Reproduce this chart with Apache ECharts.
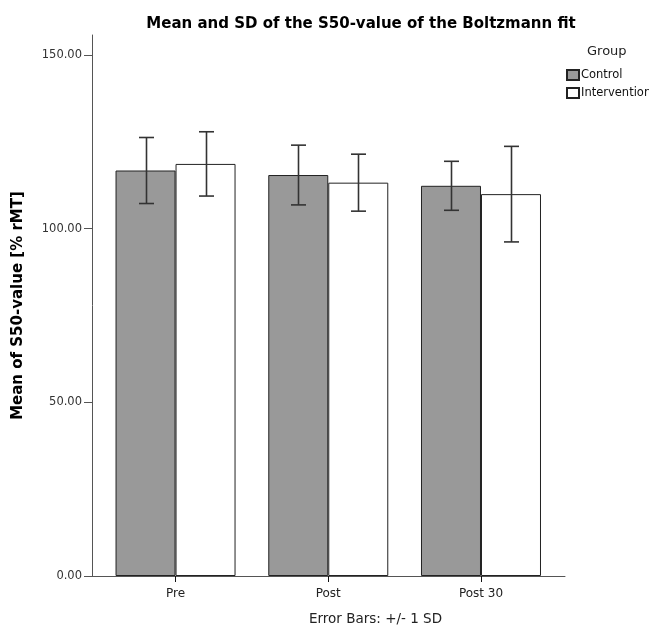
<!DOCTYPE html>
<html>
<head>
<meta charset="utf-8">
<script src="https://cdn.jsdelivr.net/npm/echarts@6/dist/echarts.min.js"></script>
<style>
  html, body { margin: 0; padding: 0; background: #fff; }
  #chart { width: 649px; height: 631px; }
</style>
</head>
<body>
<div id="chart"></div>
<script>
// values
const categories = ['Pre', 'Post', 'Post 30'];
const controlMean = [116.7, 115.4, 112.3];
const controlSD = [9.5, 8.6, 7.05];
const interventionMean = [118.6, 113.2, 109.9];
const interventionSD = [9.25, 8.2, 13.75];
const yTicks = [0, 50, 100, 150];

const font = '"DejaVu Sans", "Liberation Sans", Arial, sans-serif';
const barW = 60;

const errData = (means, sds, side) => means.map((m, i) => [i, m - sds[i], m + sds[i], side]);

const errorBars = errData(controlMean, controlSD, -1).concat(errData(interventionMean, interventionSD, 1));

let option = {
    animation: false,
    backgroundColor: '#fff',
    textStyle: { fontFamily: font },
    title: {
        text: 'Mean and SD of the S50-value of the Boltzmann fit',
        left: 356, top: 12, textAlign: 'center',
        textStyle: { fontFamily: font, fontSize: 15, fontWeight: 'bold', color: '#000' }
    },
    legend: {
        orient: 'vertical',
        left: 566, top: 69,
        padding: 0,
        itemWidth: 12, itemHeight: 10, itemGap: 6,
        icon: 'rect',
        textStyle: { fontFamily: font, fontSize: 11.5, color: '#111', padding: [0, 0, 0, -3] },
        data: ['Control', 'Intervention']
    },
    graphic: [
        { type: 'text', left: 587, top: 45, style: { text: 'Group', font: '13px ' + font, fill: '#222' } },
        { type: 'text', left: 309, top: 612, style: { text: 'Error Bars: +/- 1 SD', font: '13.5px ' + font, fill: '#222' } }
    ],
    grid: { left: 92, right: 84, top: 35, bottom: 55 },
    xAxis: {
        type: 'value',
        min: -0.547, max: 2.55,
        splitLine: { show: false },
        axisLine: { show: true, onZero: false, lineStyle: { color: '#555', width: 1 } },
        axisTick: { show: true, customValues: [0, 1, 2], length: 6, lineStyle: { color: '#111' } },
        axisLabel: {
            customValues: [0, 1, 2], margin: 12,
            fontFamily: font, fontSize: 12, color: '#222',
            formatter: v => categories[Math.round(v)]
        }
    },
    yAxis: {
        type: 'value',
        min: 0, max: 155.7,
        name: 'Mean of S50-value [% rMT]',
        nameLocation: 'middle', nameGap: 66,
        nameTextStyle: { fontFamily: font, fontSize: 15, fontWeight: 'bold', color: '#000' },
        splitLine: { show: false },
        axisLine: { show: true, onZero: false, lineStyle: { color: '#555', width: 1 } },
        axisTick: { show: true, customValues: yTicks, length: 8, lineStyle: { color: '#555' } },
        axisLabel: {
            customValues: yTicks, margin: 10,
            fontFamily: font, fontSize: 11.5, color: '#333',
            formatter: v => v.toFixed(2)
        }
    },
    series: [
        {
            name: 'Control', type: 'bar', barWidth: barW, barGap: '0%',
            itemStyle: { color: '#999999', borderColor: '#222', borderWidth: 1 },
            data: controlMean.map((v, i) => [i, v])
        },
        {
            name: 'Intervention', type: 'bar', barWidth: barW, barGap: '0%',
            itemStyle: { color: '#ffffff', borderColor: '#222', borderWidth: 1 },
            data: interventionMean.map((v, i) => [i, v])
        },
        {
            type: 'custom', name: 'err', z: 5,
            data: errorBars,
            renderItem: (params, api) => {
                const side = api.value(3);
                const lo = api.coord([api.value(0), api.value(1)]);
                const hi = api.coord([api.value(0), api.value(2)]);
                const x = Math.round(lo[0] + side * barW / 2) + 0.5;
                const w = 7.5;
                const style = { stroke: '#333', lineWidth: 1.6, fill: null };
                return {
                    type: 'group',
                    children: [
                        { type: 'line', shape: { x1: x, y1: hi[1], x2: x, y2: lo[1] }, style },
                        { type: 'line', shape: { x1: x - w, y1: hi[1], x2: x + w, y2: hi[1] }, style },
                        { type: 'line', shape: { x1: x - w, y1: lo[1], x2: x + w, y2: lo[1] }, style }
                    ]
                };
            }
        }
    ]
};

const myChart = echarts.init(document.getElementById('chart'));
myChart.setOption(option);
</script>
</body>
</html>
